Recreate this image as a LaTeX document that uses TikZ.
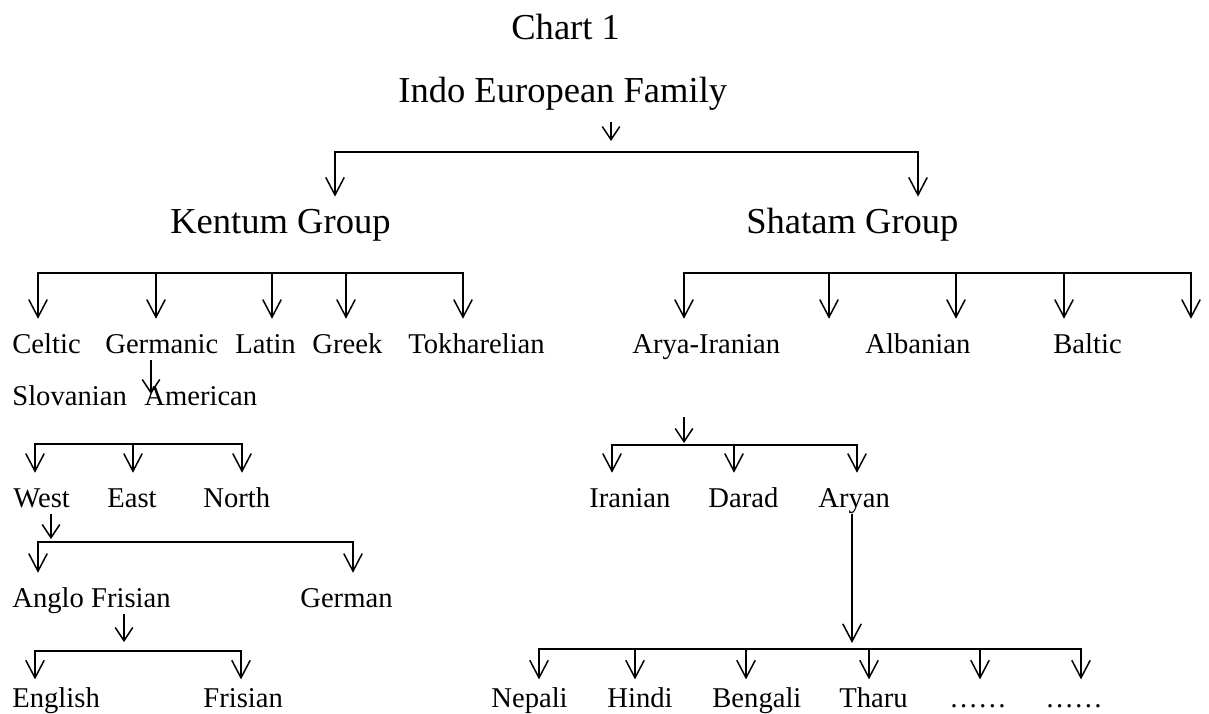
\documentclass[tikz,border=0pt]{standalone}
\usepackage{fontspec}
\setmainfont{Liberation Serif}
\usepackage{tikz}
\usetikzlibrary{arrows.meta,positioning}

\begin{document}
\begin{tikzpicture}[x=0.02cm,y=-0.02cm,
  big/.style={font=\fontsize{20.8pt}{25pt}\selectfont,anchor=base west,inner sep=0pt,text height=20.5pt,text depth=10.8pt},
  sm/.style={font=\fontsize{16.3pt}{19pt}\selectfont,anchor=base west,inner sep=0pt,text height=19.3pt,text depth=4pt},
  low/.style={sm,text height=15.5pt},
  ln/.style={line width=0.85pt},
  ar/.style={ln,-{Straight Barb[length=10pt,width=10.5pt]}},
  sar/.style={ln,-{Straight Barb[length=7.5pt,width=10pt]}},
  br/.style={ln,{Straight Barb[length=10pt,width=10.5pt]}-{Straight Barb[length=10pt,width=10.5pt]}}]
  \useasboundingbox (0,0) rectangle (1209,713);
  \node[big] (chart) at (511,40) {Chart 1};
  \node[big] (ief) at (398,103) {Indo European Family};
  \node[big] (kentum) at (170,233) {Kentum Group};
  \node[big] (shatam) at (746,233) {Shatam Group};
  \coordinate (t0) at (611,141);
  \coordinate (tl) at (335,152); \coordinate (tr) at (918,152);
  \draw[sar] (t0 |- ief.south) -- (t0);
  \draw[br] (tl |- kentum.north) -- (tl) -- (tr) -- (tr |- shatam.north);
  \node[sm] (celtic) at (12,353) {Celtic};
  \node[sm] (germanic) at (105,353) {Germanic};
  \node[sm] (latin) at (235,353) {Latin};
  \node[sm] (greek) at (312,353) {Greek};
  \node[sm] (tokh) at (408,353) {Tokharelian};
  \coordinate (k1) at (38,273); \coordinate (k2) at (156,273); \coordinate (k3) at (272,273);
  \coordinate (k4) at (346,273); \coordinate (k5) at (463,273);
  \draw[br] (k1 |- celtic.north) -- (k1) -- (k5) -- (k5 |- tokh.north);
  \draw[ar] (k2) -- (k2 |- germanic.north); \draw[ar] (k3) -- (k3 |- latin.north);
  \draw[ar] (k4) -- (k4 |- greek.north);
  \node[sm] (slov) at (12,405) {Slovanian};
  \node[sm] (amer) at (144,405) {American};
  \coordinate (g0) at (151,394);
  \draw[sar] (g0 |- germanic.south) -- (g0);
  \node[sm] (west) at (13,507) {West};
  \node[sm] (east) at (107,507) {East};
  \node[sm] (north) at (203,507) {North};
  \coordinate (w1) at (35,444); \coordinate (w2) at (133,444); \coordinate (w3) at (242,444);
  \draw[br] (w1 |- west.north) -- (w1) -- (w3) -- (w3 |- north.north);
  \draw[ar] (w2) -- (w2 |- east.north);
  \coordinate (w0) at (51,539);
  \draw[sar] (w0 |- west.south) -- (w0);
  \node[sm] (anglo) at (12,607) {Anglo Frisian};
  \node[sm] (german) at (300,607) {German};
  \coordinate (a1) at (38,542); \coordinate (a2) at (353,542);
  \draw[br] (a1 |- anglo.north) -- (a1) -- (a2) -- (a2 |- german.north);
  \coordinate (f0) at (124,642);
  \draw[sar] (f0 |- anglo.south) -- (f0);
  \node[low] (english) at (12,707) {English};
  \node[low] (frisian) at (203,707) {Frisian};
  \coordinate (e1) at (35,651); \coordinate (e2) at (241,651);
  \draw[br] (e1 |- english.north) -- (e1) -- (e2) -- (e2 |- frisian.north);
  \node[sm] (arya) at (632,353) {Arya-Iranian};
  \node[sm] (alban) at (865,353) {Albanian};
  \node[sm] (baltic) at (1053,353) {Baltic};
  \coordinate (s1) at (684,273); \coordinate (s2) at (829,273); \coordinate (s3) at (956,273);
  \coordinate (s4) at (1064,273); \coordinate (s5) at (1191,273);
  \draw[br] (s1 |- arya.north) -- (s1) -- (s5) -- (s5 |- baltic.north);
  \draw[ar] (s2) -- (s2 |- alban.north); \draw[ar] (s3) -- (s3 |- alban.north);
  \draw[ar] (s4) -- (s4 |- baltic.north);
  \coordinate (r0) at (684,417); \coordinate (r1) at (684,443);
  \draw[sar] (r0) -- (r1);
  \node[sm] (iranian) at (589,507) {Iranian};
  \node[sm] (darad) at (708,507) {Darad};
  \node[sm] (aryan) at (818,507) {Aryan};
  \coordinate (i1) at (612,445); \coordinate (i2) at (734,445); \coordinate (i3) at (857,445);
  \draw[br] (i1 |- iranian.north) -- (i1) -- (i3) -- (i3 |- aryan.north);
  \draw[ar] (i2) -- (i2 |- darad.north);
  \coordinate (y0) at (852,643);
  \draw[ar] (y0 |- aryan.south) -- (y0);
  \node[low] (nepali) at (491,707) {Nepali};
  \node[low] (hindi) at (607,707) {Hindi};
  \node[low] (bengali) at (712,707) {Bengali};
  \node[low] (tharu) at (839,707) {Tharu};
  \node[low] (dotsa) at (949,707) {……};
  \node[low] (dotsb) at (1045,707) {……};
  \coordinate (b1) at (539,649); \coordinate (b2) at (635,649); \coordinate (b3) at (746,649);
  \coordinate (b4) at (869,649); \coordinate (b5) at (980,649); \coordinate (b6) at (1081,649);
  \draw[br] (b1 |- nepali.north) -- (b1) -- (b6) -- (b6 |- dotsb.north);
  \draw[ar] (b2) -- (b2 |- hindi.north); \draw[ar] (b3) -- (b3 |- bengali.north);
  \draw[ar] (b4) -- (b4 |- tharu.north); \draw[ar] (b5) -- (b5 |- dotsa.north);
\end{tikzpicture}
\end{document}
